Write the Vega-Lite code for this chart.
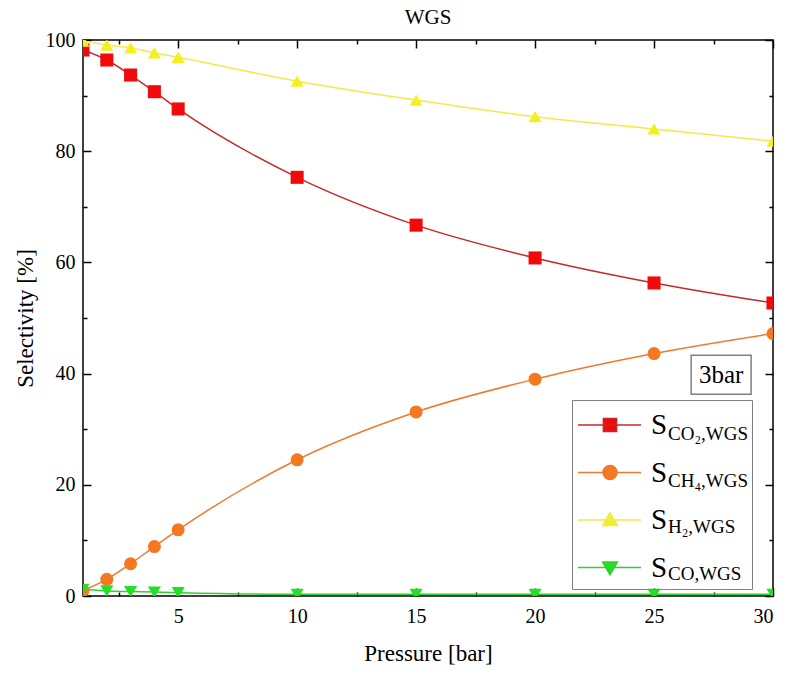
{
  "$schema": "https://vega.github.io/schema/vega-lite/v6.json",
  "width": 690,
  "height": 556,
  "autosize": {"type": "none"},
  "padding": {"left": 83, "top": 40, "right": 27, "bottom": 78},
  "background": "white",
  "title": {"text": "WGS", "font": "Liberation Serif", "fontSize": 21, "fontWeight": "normal", "color": "#000", "offset": 2, "anchor": "middle"},
  "config": {
    "view": {"stroke": "#000", "strokeWidth": 1.5},
    "axis": {"domain": false, "grid": false, "tickColor": "#000", "tickWidth": 1.5, "labelFont": "Liberation Serif", "labelColor": "#000", "titleFont": "Liberation Serif", "titleFontWeight": "normal", "titleColor": "#000"}
  },
  "datasets": {
    "sel": [
      {"series": "CO2", "sub": "CO₂,WGS", "p": 1, "s": 98.2},
      {"series": "CO2", "sub": "CO₂,WGS", "p": 2, "s": 96.4},
      {"series": "CO2", "sub": "CO₂,WGS", "p": 3, "s": 93.7},
      {"series": "CO2", "sub": "CO₂,WGS", "p": 4, "s": 90.7},
      {"series": "CO2", "sub": "CO₂,WGS", "p": 5, "s": 87.6},
      {"series": "CO2", "sub": "CO₂,WGS", "p": 10, "s": 75.3},
      {"series": "CO2", "sub": "CO₂,WGS", "p": 15, "s": 66.7},
      {"series": "CO2", "sub": "CO₂,WGS", "p": 20, "s": 60.8},
      {"series": "CO2", "sub": "CO₂,WGS", "p": 25, "s": 56.3},
      {"series": "CO2", "sub": "CO₂,WGS", "p": 30, "s": 52.7},
      {"series": "CH4", "sub": "CH₄,WGS", "p": 1, "s": 1.0},
      {"series": "CH4", "sub": "CH₄,WGS", "p": 2, "s": 3.0},
      {"series": "CH4", "sub": "CH₄,WGS", "p": 3, "s": 5.8},
      {"series": "CH4", "sub": "CH₄,WGS", "p": 4, "s": 8.9},
      {"series": "CH4", "sub": "CH₄,WGS", "p": 5, "s": 11.9},
      {"series": "CH4", "sub": "CH₄,WGS", "p": 10, "s": 24.5},
      {"series": "CH4", "sub": "CH₄,WGS", "p": 15, "s": 33.1},
      {"series": "CH4", "sub": "CH₄,WGS", "p": 20, "s": 39.0},
      {"series": "CH4", "sub": "CH₄,WGS", "p": 25, "s": 43.6},
      {"series": "CH4", "sub": "CH₄,WGS", "p": 30, "s": 47.2},
      {"series": "H2", "sub": "H₂,WGS", "p": 1, "s": 99.8},
      {"series": "H2", "sub": "H₂,WGS", "p": 2, "s": 99.1},
      {"series": "H2", "sub": "H₂,WGS", "p": 3, "s": 98.6},
      {"series": "H2", "sub": "H₂,WGS", "p": 4, "s": 97.7},
      {"series": "H2", "sub": "H₂,WGS", "p": 5, "s": 96.9},
      {"series": "H2", "sub": "H₂,WGS", "p": 10, "s": 92.6},
      {"series": "H2", "sub": "H₂,WGS", "p": 15, "s": 89.2},
      {"series": "H2", "sub": "H₂,WGS", "p": 20, "s": 86.2},
      {"series": "H2", "sub": "H₂,WGS", "p": 25, "s": 84.0},
      {"series": "H2", "sub": "H₂,WGS", "p": 30, "s": 81.8},
      {"series": "CO", "sub": "CO,WGS", "p": 1, "s": 1.2},
      {"series": "CO", "sub": "CO,WGS", "p": 2, "s": 0.9},
      {"series": "CO", "sub": "CO,WGS", "p": 3, "s": 0.8},
      {"series": "CO", "sub": "CO,WGS", "p": 4, "s": 0.7},
      {"series": "CO", "sub": "CO,WGS", "p": 5, "s": 0.6},
      {"series": "CO", "sub": "CO,WGS", "p": 10, "s": 0.3},
      {"series": "CO", "sub": "CO,WGS", "p": 15, "s": 0.3},
      {"series": "CO", "sub": "CO,WGS", "p": 20, "s": 0.3},
      {"series": "CO", "sub": "CO,WGS", "p": 25, "s": 0.3},
      {"series": "CO", "sub": "CO,WGS", "p": 30, "s": 0.3}
    ],
    "note": [
      {"x1": 26.56, "x2": 29.08, "y1": 36.3, "y2": 43.3, "xc": 27.82, "yc": 39.8, "label": "3bar"}
    ]
  },
  "layer": [
    {
      "data": {"name": "sel"},
      "mark": {"type": "line", "interpolate": "monotone", "strokeWidth": 1.5, "clip": true},
      "encoding": {
        "x": {"field": "p", "type": "quantitative", "scale": {"domain": [1, 30], "nice": false, "zero": false},
          "axis": {"orient": "bottom", "values": [5, 10, 15, 20, 25, 30], "tickSize": -8, "labelPadding": 18, "labelFontSize": 20, "title": "Pressure [bar]", "titleFontSize": 23, "titlePadding": 16}},
        "y": {"field": "s", "type": "quantitative", "scale": {"domain": [0, 100], "nice": false},
          "axis": {"orient": "left", "values": [0, 20, 40, 60, 80, 100], "tickSize": -8, "labelPadding": 16, "labelFontSize": 20, "title": "Selectivity [%]", "titleFontSize": 23, "titlePadding": 8}},
        "stroke": {"field": "series", "type": "nominal", "scale": {"domain": ["CO2", "CH4", "H2", "CO"], "range": ["#c42a2a", "#ec7a30", "#ecec4a", "#2ed02e"]}, "legend": null}
      }
    },
    {
      "data": {"name": "sel"},
      "mark": {"type": "point", "filled": true, "opacity": 1, "size": 170, "clip": true},
      "encoding": {
        "x": {"field": "p", "type": "quantitative", "scale": {"domain": [1, 30], "nice": false, "zero": false},
          "axis": {"orient": "top", "values": [5, 10, 15, 20, 25, 30], "tickSize": -8, "labels": false, "title": null}},
        "y": {"field": "s", "type": "quantitative", "scale": {"domain": [0, 100], "nice": false},
          "axis": {"orient": "right", "values": [0, 20, 40, 60, 80, 100], "tickSize": -8, "labels": false, "title": null}},
        "color": {"field": "series", "type": "nominal", "scale": {"domain": ["CO2", "CH4", "H2", "CO"], "range": ["#f20a0a", "#f47820", "#f4f01e", "#22e022"]}, "legend": null},
        "shape": {"field": "series", "type": "nominal", "scale": {"domain": ["CO2", "CH4", "H2", "CO"], "range": ["square", "circle", "triangle-up", "triangle-down"]}, "legend": null}
      }
    },
    {
      "data": {"name": "sel"},
      "mark": {"type": "point", "opacity": 0},
      "encoding": {
        "x": {"field": "p", "type": "quantitative", "scale": {"domain": [1, 30], "nice": false, "zero": false},
          "axis": {"orient": "bottom", "values": [2.5, 7.5, 12.5, 17.5, 22.5, 27.5], "tickSize": -4, "labels": false, "title": null}},
        "y": {"field": "s", "type": "quantitative", "scale": {"domain": [0, 100], "nice": false},
          "axis": {"orient": "left", "values": [10, 30, 50, 70, 90], "tickSize": -4, "labels": false, "title": null}}
      }
    },
    {
      "data": {"name": "sel"},
      "mark": {"type": "point", "opacity": 0},
      "encoding": {
        "x": {"field": "p", "type": "quantitative", "scale": {"domain": [1, 30], "nice": false, "zero": false},
          "axis": {"orient": "top", "values": [2.5, 7.5, 12.5, 17.5, 22.5, 27.5], "tickSize": -4, "labels": false, "title": null}},
        "y": {"field": "s", "type": "quantitative", "scale": {"domain": [0, 100], "nice": false},
          "axis": {"orient": "right", "values": [10, 30, 50, 70, 90], "tickSize": -4, "labels": false, "title": null}}
      }
    },
    {
      "data": {"name": "sel"},
      "mark": {"type": "point", "filled": true, "opacity": 0, "strokeWidth": 1.5},
      "encoding": {
        "color": {"field": "series", "type": "nominal", "scale": {"domain": ["CO2", "CH4", "H2", "CO"], "range": ["#f20a0a", "#f47820", "#f4f01e", "#22e022"]}},
        "stroke": {"field": "series", "type": "nominal", "scale": {"domain": ["CO2", "CH4", "H2", "CO"], "range": ["#c42a2a", "#ec7a30", "#ecec4a", "#2ed02e"]}},
        "shape": {"field": "series", "type": "nominal",
          "scale": {"domain": ["CO2", "CH4", "H2", "CO"], "range": [
            "M0,-0.87M0,0.87M-1.6,0H1.55M-0.33,-0.33H0.33V0.33H-0.33Z",
            "M0,-0.87M0,0.87M-1.6,0H1.55M-0.35,0A0.35,0.35 0 1,0 0.35,0A0.35,0.35 0 1,0 -0.35,0Z",
            "M0,-0.87M0,0.87M-1.6,0H1.55M0,-0.36L0.37,0.28L-0.37,0.28Z",
            "M0,-0.87M0,0.87M-1.6,0H1.55M0,0.36L0.37,-0.28L-0.37,-0.28Z"]},
          "legend": {"orient": "none", "legendX": 489, "legendY": 360, "title": null, "padding": 4, "symbolSize": 1600, "rowPadding": 5.5, "symbolOffset": 13, "labelOffset": 20, "labelFont": "Liberation Serif", "labelFontSize": 29, "labelColor": "#000", "labelExpr": "'S'", "symbolOpacity": 1, "symbolStrokeWidth": 1.5}}
      }
    },
    {
      "data": {"name": "sel"},
      "mark": {"type": "point", "filled": true, "opacity": 0},
      "encoding": {
        "shape": {"field": "sub", "type": "nominal", "scale": {"domain": ["CO₂,WGS", "CH₄,WGS", "H₂,WGS", "CO,WGS"], "range": ["square", "square", "square", "square"]},
          "legend": {"orient": "none", "legendX": 489, "legendY": 360, "title": null, "padding": 4, "symbolSize": 1600, "rowPadding": 5.5, "symbolOffset": 13, "labelOffset": 37, "labelFont": "Liberation Serif", "labelFontSize": 19, "labelColor": "#000", "labelBaseline": "top", "symbolOpacity": 0, "symbolStrokeWidth": 1.5, "symbolStrokeColor": "#fff", "strokeColor": "#808080"}}
      }
    },
    {
      "data": {"name": "note"},
      "mark": {"type": "rect", "fill": "white", "stroke": "#808080", "strokeWidth": 1.5},
      "encoding": {
        "x": {"field": "x1", "type": "quantitative", "axis": null},
        "x2": {"field": "x2"},
        "y": {"field": "y1", "type": "quantitative", "axis": null},
        "y2": {"field": "y2"}
      }
    },
    {
      "data": {"name": "note"},
      "mark": {"type": "text", "font": "Liberation Serif", "fontSize": 25, "color": "#000", "align": "center", "baseline": "middle"},
      "encoding": {
        "x": {"field": "xc", "type": "quantitative", "axis": null},
        "y": {"field": "yc", "type": "quantitative", "axis": null},
        "text": {"field": "label"}
      }
    }
  ],
  "resolve": {
    "axis": {"x": "independent", "y": "independent"},
    "scale": {"color": "independent", "stroke": "independent", "shape": "independent"}
  }
}
